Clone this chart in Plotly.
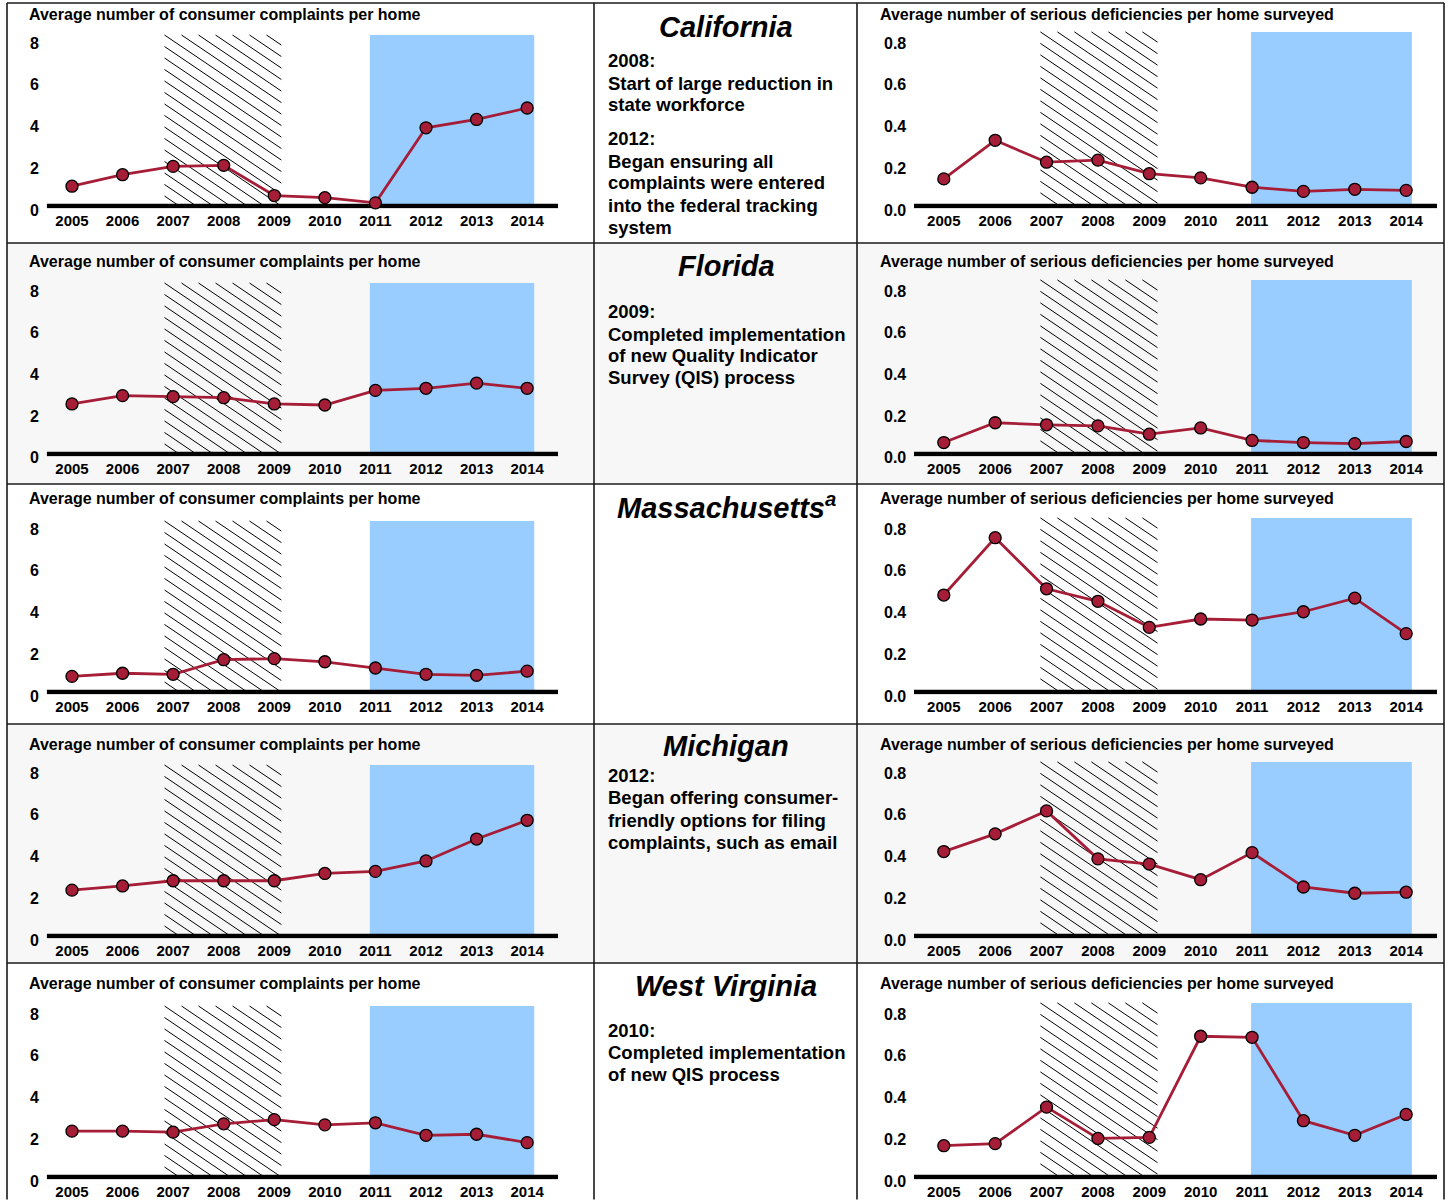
import plotly.graph_objects as go

W, H = 1449, 1200

# ---------------- data ----------------
YEARS = [2005, 2006, 2007, 2008, 2009, 2010, 2011, 2012, 2013, 2014]
YEAR_LABELS = [str(y) for y in YEARS]
STATES = ["California", "Florida", "Massachusetts", "Michigan", "West Virginia"]

CA_COMPLAINTS = [0.95, 1.5, 1.9, 1.95, 0.5, 0.4, 0.15, 3.75, 4.15, 4.7]
FL_COMPLAINTS = [2.4, 2.8, 2.75, 2.7, 2.4, 2.35, 3.05, 3.15, 3.4, 3.15]
MA_COMPLAINTS = [0.75, 0.9, 0.85, 1.55, 1.6, 1.45, 1.15, 0.85, 0.8, 1.0]
MI_COMPLAINTS = [2.2, 2.4, 2.65, 2.65, 2.65, 3.0, 3.1, 3.6, 4.65, 5.55]
WV_COMPLAINTS = [2.2, 2.2, 2.15, 2.55, 2.75, 2.5, 2.6, 2.0, 2.05, 1.65]

CA_DEFICIENCIES = [0.13, 0.315, 0.21, 0.22, 0.155, 0.135, 0.09, 0.07, 0.08, 0.075]
FL_DEFICIENCIES = [0.055, 0.15, 0.14, 0.135, 0.095, 0.125, 0.065, 0.055, 0.05, 0.06]
MA_DEFICIENCIES = [0.465, 0.74, 0.495, 0.435, 0.31, 0.35, 0.345, 0.385, 0.45, 0.28]
MI_DEFICIENCIES = [0.405, 0.49, 0.6, 0.37, 0.345, 0.27, 0.4, 0.235, 0.205, 0.21]
WV_DEFICIENCIES = [0.15, 0.16, 0.335, 0.185, 0.19, 0.675, 0.67, 0.27, 0.2, 0.3]

COMPLAINTS = [CA_COMPLAINTS, FL_COMPLAINTS, MA_COMPLAINTS, MI_COMPLAINTS, WV_COMPLAINTS]
DEFICIENCIES = [CA_DEFICIENCIES, FL_DEFICIENCIES, MA_DEFICIENCIES, MI_DEFICIENCIES, WV_DEFICIENCIES]

COMPLAINT_TICKS = [0, 2, 4, 6, 8]
COMPLAINT_TICK_LABELS = ["0", "2", "4", "6", "8"]
DEFICIENCY_TICKS = [0.0, 0.2, 0.4, 0.6, 0.8]
DEFICIENCY_TICK_LABELS = ["0.0", "0.2", "0.4", "0.6", "0.8"]

LEFT_TITLE = "Average number of consumer complaints per home"
RIGHT_TITLE = "Average number of serious deficiencies per home surveyed"

STATE_TITLES = ["California", "Florida", "Massachusetts<sup>a</sup>", "Michigan", "West Virginia"]
STATE_NOTES = [
    [["2008:", "Start of large reduction in", "state workforce"],
     ["2012:", "Began ensuring all", "complaints were entered", "into the federal tracking", "system"]],
    [["2009:", "Completed implementation", "of new Quality Indicator", "Survey (QIS) process"]],
    [],
    [["2012:", "Began offering consumer-", "friendly options for filing", "complaints, such as email"]],
    [["2010:", "Completed implementation", "of new QIS process"]],
]

# ---------------- layout constants ----------------
FONT = "Liberation Sans, Arial, Helvetica, sans-serif"
LINE_RED = "#a51d36"
BLUE = "#99ccff"
ROW_GRAY = "#f7f7f7"

ZERO_PX = [206, 454, 692, 936, 1177]
ROW_TOP_PX = [3, 243, 484, 724, 963]
TITLE_Y_PX = [15, 261, 499, 744, 984]
STATE_TITLE_Y_PX = [27, 266, 506, 746, 986]
NOTE_Y_PX = [[[61, 83, 104], [138, 161, 183, 205, 227]],
             [[311, 334, 356, 378]],
             [],
             [[775, 797, 820, 842]],
             [[1030, 1052, 1074]]]

PANELS = {
    "left": dict(xr=(2004.5, 2014.61), xpx=(46.7, 558.0), yr=(-0.12, 8.6), ppu=20.85,
                 hatch=(2006.83, 2009.14), blue=(2010.89, 2014.14), top=8.2,
                 ticks=COMPLAINT_TICKS, labels=COMPLAINT_TICK_LABELS, label_right_px=40, title_x=27),
    "right": dict(xr=(2004.42, 2014.6), xpx=(914.0, 1437.0), yr=(-0.012, 0.86), ppu=208.5,
                  hatch=(2006.88, 2009.16), blue=(2010.98, 2014.11), top=0.835,
                  ticks=DEFICIENCY_TICKS, labels=DEFICIENCY_TICK_LABELS, label_right_px=907, title_x=878),
}
YLABEL_DROP_PX = 4


def px2x(px):
    return px / W


def px2y(py):
    return 1 - py / H


def hatch_lines(x0, x1, top, ppx, ppy, dx=17.0, slope=11.5 / 17.0):
    wp = (x1 - x0) * ppx
    hp = top * ppy
    xs, ys = [], []
    k0 = int(-hp / slope / dx) - 2
    k1 = int(wp / dx) + 2
    for k in range(k0, k1):
        c = k * dx
        u0 = max(0.0, c)
        u1 = min(wp, c + hp / slope)
        if u1 <= u0:
            continue
        for u in (u0, u1):
            v = slope * (u - c)
            xs.append(x0 + u / ppx)
            ys.append(top - v / ppy)
        xs.append(None)
        ys.append(None)
    return xs, ys


fig = go.Figure()
shapes = []
annotations = []
layout_axes = {}

# row backgrounds
for r in (1, 3):
    shapes.append(dict(type="rect", xref="paper", yref="paper",
                       x0=px2x(7), x1=px2x(1444), y0=px2y(ROW_TOP_PX[r + 1]), y1=px2y(ROW_TOP_PX[r]),
                       fillcolor=ROW_GRAY, line=dict(width=0), layer="below"))

idx = 0
for r in range(5):
    for side, series in (("left", COMPLAINTS[r]), ("right", DEFICIENCIES[r])):
        idx += 1
        p = PANELS[side]
        xname = "xaxis" if idx == 1 else f"xaxis{idx}"
        yname = "yaxis" if idx == 1 else f"yaxis{idx}"
        xref = "x" if idx == 1 else f"x{idx}"
        yref = "y" if idx == 1 else f"y{idx}"
        z = ZERO_PX[r]
        ybot_px = z - p["yr"][0] * p["ppu"]
        ytop_px = z - p["yr"][1] * p["ppu"]
        ppx = (p["xpx"][1] - p["xpx"][0]) / (p["xr"][1] - p["xr"][0])

        layout_axes[xname] = dict(
            domain=[px2x(p["xpx"][0]), px2x(p["xpx"][1])], range=list(p["xr"]), anchor=yref,
            tickmode="array", tickvals=YEARS, ticktext=YEAR_LABELS,
            showgrid=False, zeroline=False, showline=False, ticks="",
            tickfont=dict(family=FONT, size=15, color="black", weight="bold"),
            ticklabelstandoff=1, fixedrange=True)
        layout_axes[yname] = dict(
            domain=[px2y(ybot_px), px2y(ytop_px)], range=list(p["yr"]), anchor=xref,
            tickmode="array", tickvals=p["ticks"], showticklabels=False,
            showgrid=False, zeroline=False, showline=False, ticks="", fixedrange=True)

        # y tick labels, placed on the axis scale (slightly below the value as in the original)
        for tv, tl in zip(p["ticks"], p["labels"]):
            annotations.append(dict(text=tl, xref="paper", yref=yref, x=px2x(p["label_right_px"]), y=tv,
                                    xanchor="right", yanchor="middle", yshift=-YLABEL_DROP_PX,
                                    showarrow=False, borderpad=0,
                                    font=dict(family=FONT, size=16, color="black", weight="bold")))

        # blue shading
        shapes.append(dict(type="rect", xref=xref, yref=yref, x0=p["blue"][0], x1=p["blue"][1],
                           y0=0, y1=p["top"], fillcolor=BLUE, line=dict(width=0), layer="below"))
        # thick baseline
        shapes.append(dict(type="line", xref=xref, yref=yref, x0=p["xr"][0], x1=p["xr"][1],
                           y0=0, y1=0, line=dict(color="black", width=4.5), layer="below"))

        hx, hy = hatch_lines(p["hatch"][0], p["hatch"][1], p["top"], ppx, p["ppu"])
        fig.add_trace(go.Scatter(x=hx, y=hy, mode="lines", xaxis=xref, yaxis=yref,
                                 line=dict(color="black", width=1), hoverinfo="skip",
                                 showlegend=False, cliponaxis=False))
        fig.add_trace(go.Scatter(x=YEARS, y=series, mode="lines+markers", xaxis=xref, yaxis=yref,
                                 line=dict(color=LINE_RED, width=2.8),
                                 marker=dict(size=12, color=LINE_RED, line=dict(color="black", width=1.3)),
                                 showlegend=False, cliponaxis=False))

        title = LEFT_TITLE if side == "left" else RIGHT_TITLE
        annotations.append(dict(text=title, xref="paper", yref="paper", x=px2x(p["title_x"]),
                                y=px2y(TITLE_Y_PX[r]), xanchor="left", yanchor="middle", showarrow=False,
                                font=dict(family=FONT, size=16, color="black", weight="bold")))

    # middle column text
    annotations.append(dict(text=STATE_TITLES[r], xref="paper", yref="paper", x=px2x(726),
                            y=px2y(STATE_TITLE_Y_PX[r]), xanchor="center", yanchor="middle", showarrow=False,
                            font=dict(family=FONT, size=29, color="black", weight="bold", style="italic")))
    for para, ys in zip(STATE_NOTES[r], NOTE_Y_PX[r]):
        for line, ypx in zip(para, ys):
            annotations.append(dict(text=line, xref="paper", yref="paper", x=px2x(606),
                                    y=px2y(ypx), xanchor="left", yanchor="middle", showarrow=False,
                                    font=dict(family=FONT, size=18.5, color="black", weight="bold")))

# grid borders
BORDER = dict(color="#1a1a1a", width=1.6)
for ypx in ROW_TOP_PX[1:]:
    shapes.append(dict(type="line", xref="paper", yref="paper", x0=px2x(7), x1=px2x(1444),
                       y0=px2y(ypx), y1=px2y(ypx), line=BORDER, layer="above"))
shapes.append(dict(type="line", xref="paper", yref="paper", x0=px2x(7), x1=px2x(1444),
                   y0=px2y(3), y1=px2y(3), line=BORDER, layer="above"))
for xpx in (7, 594, 857, 1444):
    shapes.append(dict(type="line", xref="paper", yref="paper", x0=px2x(xpx), x1=px2x(xpx),
                       y0=px2y(3), y1=px2y(1199.5), line=BORDER, layer="above"))

fig.update_layout(
    width=W, height=H, autosize=False,
    margin=dict(l=0, r=0, t=0, b=0, pad=0),
    paper_bgcolor="white", plot_bgcolor="rgba(0,0,0,0)",
    showlegend=False, shapes=shapes, annotations=annotations,
    font=dict(family=FONT, color="black"),
    **layout_axes,
)

fig.write_html("out.html", config={"displayModeBar": False, "staticPlot": True},
               post_script="document.body.style.margin='0';document.body.style.padding='0';")
